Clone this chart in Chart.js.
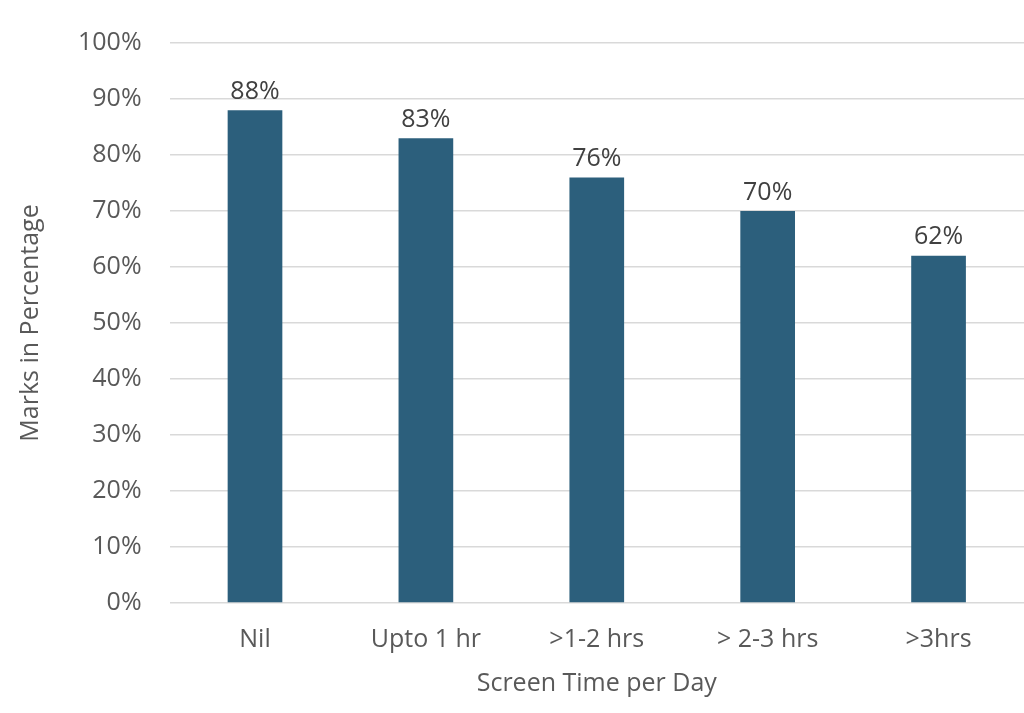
<!DOCTYPE html>
<html>
<head>
<meta charset="utf-8">
<script src="https://cdn.jsdelivr.net/npm/chart.js@4"></script>
<style>
  html,body{margin:0;padding:0;background:#fff;}
  #wrap{width:1024px;height:713px;}
</style>
</head>
<body>
<div id="wrap"><canvas id="c" width="1024" height="713"></canvas></div>
<script>
const categories = ['Nil', 'Upto 1 hr', '>1-2 hrs', '> 2-3 hrs', '>3hrs'];
const marks = [88, 83, 76, 70, 62];
const yTicks = [0, 10, 20, 30, 40, 50, 60, 70, 80, 90, 100];
const FONT = '"Open Sans", "Liberation Sans", Arial, sans-serif';

// value labels above each bar
const barLabels = {
  id: 'barLabels',
  afterDatasetsDraw(chart){
    const ctx = chart.ctx;
    const meta = chart.getDatasetMeta(0);
    ctx.save();
    ctx.font = '25px ' + FONT;
    ctx.fillStyle = '#404040';
    ctx.textAlign = 'center';
    ctx.textBaseline = 'bottom';
    meta.data.forEach((bar, i) => ctx.fillText(marks[i] + '%', bar.x, bar.y - 6));
    ctx.restore();
  }
};

new Chart(document.getElementById('c'), {
  type: 'bar',
  data: {
    labels: categories,
    datasets: [{ data: marks, backgroundColor: '#2c5f7c', barPercentage: 0.32, categoryPercentage: 1 }]
  },
  options: {
    responsive: false,
    animation: false,
    layout: { padding: { top: 24, right: 0, bottom: 10, left: 12 } },
    plugins: { legend: { display: false }, tooltip: { enabled: false } },
    scales: {
      x: {
        grid: { display: false },
        border: { display: false },
        ticks: { color: '#595959', font: { size: 25, family: FONT }, padding: 14 },
        title: { display: true, text: 'Screen Time per Day', color: '#595959',
                 font: { size: 25, family: FONT }, padding: { top: 0 } }
      },
      y: {
        min: 0, max: 100,
        afterBuildTicks: axis => { axis.ticks = yTicks.map(v => ({ value: v })); },
        grid: { color: '#d9d9d9', lineWidth: 1.5, drawTicks: false },
        border: { display: false },
        ticks: { color: '#595959', padding: 28, callback: v => v + '%',
                 font: { size: 25, family: FONT } },
        title: { display: true, text: 'Marks in Percentage', color: '#595959',
                 font: { size: 25, family: FONT }, padding: { bottom: 4 } }
      }
    }
  },
  plugins: [barLabels]
});
</script>
</body>
</html>
